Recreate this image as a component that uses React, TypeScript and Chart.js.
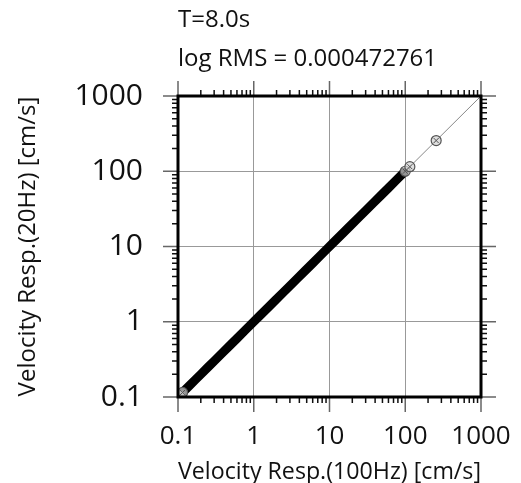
import React, { useEffect, useRef } from "react";
import { Chart, registerables } from "chart.js";

Chart.register(...registerables);

const titleLines = ["T=8.0s", "log RMS = 0.000472761"];
const xAxisTitle = "Velocity Resp.(100Hz) [cm/s]";
const yAxisTitle = "Velocity Resp.(20Hz) [cm/s]";
const axisMin = 0.1;
const axisMax = 1000;
const decadeLabels = [0.1, 1, 10, 100, 1000];

// Dense band of matched observations (100Hz vs 20Hz)
const bandX = [0.11, 0.12, 0.14, 0.17, 0.2, 0.25, 0.3, 0.38, 0.48, 0.6, 0.75, 0.95, 1.2, 1.5, 1.9, 2.4, 3, 3.8, 4.8, 6, 7.5, 9.5, 12, 15, 19, 24, 30, 38, 48, 60, 75, 88, 97];
const bandY = [0.11, 0.12, 0.14, 0.17, 0.2, 0.25, 0.3, 0.38, 0.48, 0.6, 0.75, 0.95, 1.2, 1.5, 1.9, 2.4, 3, 3.8, 4.8, 6, 7.5, 9.5, 12, 15, 19, 24, 30, 38, 48, 60, 75, 88, 97];
// Sparse observations at both ends
const sparseX = [0.105, 0.115, 100, 115, 256];
const sparseY = [0.105, 0.115, 100, 115, 256];
// 1:1 reference line
const diagX = [0.1, 1000];
const diagY = [0.1, 1000];

const FONT = "'Open Sans', sans-serif";

function isDecade(v: number) {
  const l = Math.log10(v);
  return Math.abs(l - Math.round(l)) < 1e-6;
}

const framePlugin = {
  id: "frameTicks",
  afterDraw(chart: any) {
    const { ctx, chartArea } = chart;
    const xs = chart.scales.x;
    const ys = chart.scales.y;
    const { left, right, top, bottom } = chartArea;
    const tickVals: number[] = [];
    for (let e = -1; e < 3; e++) {
      for (let m = 1; m < 10; m++) tickVals.push(Number((m * Math.pow(10, e)).toPrecision(3)));
    }
    tickVals.push(1000);
    ctx.save();
    for (const v of tickVals) {
      const major = isDecade(v);
      const len = major ? 15 : 6;
      ctx.strokeStyle = major ? "#666" : "#111";
      ctx.lineWidth = 1.5;
      const px = xs.getPixelForValue(v);
      const py = ys.getPixelForValue(v);
      ctx.beginPath();
      ctx.moveTo(px, bottom); ctx.lineTo(px, bottom + len);
      ctx.moveTo(px, top); ctx.lineTo(px, top - len);
      ctx.moveTo(left, py); ctx.lineTo(left - len, py);
      ctx.moveTo(right, py); ctx.lineTo(right + len, py);
      ctx.stroke();
    }
    ctx.strokeStyle = "#000";
    ctx.lineWidth = 3;
    ctx.strokeRect(left, top, right - left, bottom - top);
    ctx.fillStyle = "#111";
    ctx.font = "24px " + FONT;
    ctx.textAlign = "left";
    ctx.textBaseline = "alphabetic";
    ctx.fillText(titleLines[0], left, 27);
    ctx.fillText(titleLines[1], left, 66);
    ctx.restore();
  },
};

function zeroPad(s: any) {
  s.paddingLeft = 0;
  s.paddingRight = 0;
  s.paddingTop = 0;
  s.paddingBottom = 0;
}

export default function App() {
  const ref = useRef<HTMLCanvasElement>(null);
  useEffect(() => {
    if (!ref.current) return;
    const chart = new Chart(ref.current, {
      type: "scatter",
      data: {
        datasets: [
          {
            label: "sparse-x",
            data: sparseX.map((x, i) => ({ x, y: sparseY[i] })),
            showLine: false,
            pointStyle: "crossRot",
            pointRadius: 3.5,
            pointBorderWidth: 1,
            pointBorderColor: "#555",
          },
          {
            label: "sparse",
            data: sparseX.map((x, i) => ({ x, y: sparseY[i] })),
            showLine: false,
            pointRadius: 5,
            pointBorderWidth: 1.2,
            pointBorderColor: "#555",
            pointBackgroundColor: "rgba(210,210,210,0.7)",
          },
          {
            label: "band",
            data: bandX.map((x, i) => ({ x, y: bandY[i] })),
            showLine: true,
            borderColor: "#000",
            borderWidth: 9,
            borderCapStyle: "round",
            pointRadius: 0,
          },
          {
            label: "1:1",
            data: diagX.map((x, i) => ({ x, y: diagY[i] })),
            showLine: true,
            borderColor: "#888",
            borderWidth: 1,
            pointRadius: 0,
          },
        ],
      },
      options: {
        responsive: false,
        animation: false,
        layout: { padding: { top: 96, right: 40, left: 0, bottom: 0 } },
        plugins: { legend: { display: false }, tooltip: { enabled: false }, title: { display: false } },
        scales: {
          x: {
            type: "logarithmic",
            min: axisMin,
            max: axisMax,
            afterFit: (s: any) => { s.height = 86; zeroPad(s); },
            border: { display: false },
            grid: {
              drawTicks: false,
              color: (c: any) => (c.tick && isDecade(c.tick.value) ? "#999" : "rgba(0,0,0,0)"),
              lineWidth: 1,
            },
            ticks: {
              autoSkip: false,
              maxRotation: 0,
              padding: 24,
              color: "#111",
              font: { size: 26, family: FONT },
              callback: (v: any) => (decadeLabels.some((d) => Math.abs(d - v) < 1e-9) ? String(v) : ""),
            },
            title: { display: true, text: xAxisTitle, color: "#111", font: { size: 24, family: FONT }, padding: { top: 0, bottom: -4 } },
          },
          y: {
            type: "logarithmic",
            min: axisMin,
            max: axisMax,
            afterFit: (s: any) => { s.width = 178; zeroPad(s); },
            border: { display: false },
            grid: {
              drawTicks: false,
              color: (c: any) => (c.tick && isDecade(c.tick.value) ? "#999" : "rgba(0,0,0,0)"),
              lineWidth: 1,
            },
            ticks: {
              autoSkip: false,
              padding: 35,
              color: "#111",
              font: { size: 30, family: FONT },
              callback: (v: any) => (decadeLabels.some((d) => Math.abs(d - v) < 1e-9) ? String(v) : ""),
            },
            title: { display: true, text: yAxisTitle, color: "#111", font: { size: 24, family: FONT }, padding: { top: 14, bottom: 0 } },
          },
        },
      },
      plugins: [framePlugin],
    });
    return () => chart.destroy();
  }, []);
  return (
    <div style={{ position: "absolute", left: 0, top: 0, width: 521, height: 483, background: "#fff" }}>
      <canvas ref={ref} width={521} height={483} />
    </div>
  );
}
